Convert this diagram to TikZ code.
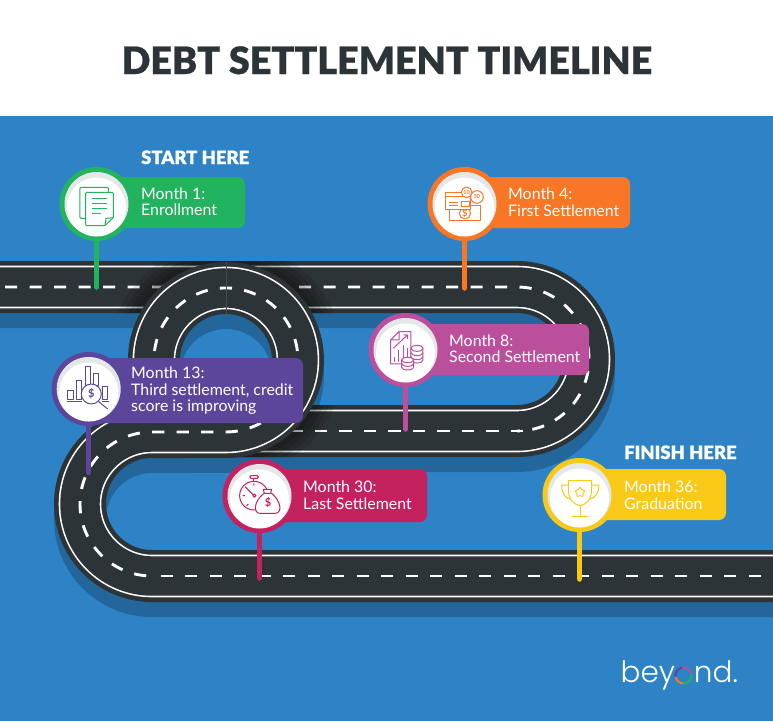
\documentclass[tikz,border=0pt]{standalone}
\usepackage{fontspec}
\setmainfont{Lato}
\newfontfamily\blackfont[FakeBold=0.6]{Lato Black}
\newfontfamily\lightfont{Poppins Light}
\usetikzlibrary{shapes.geometric}
\definecolor{cblue}{HTML}{2E83C7}
\definecolor{cshadow}{HTML}{23669C}
\definecolor{croad}{HTML}{2D3437}
\definecolor{cgreen}{HTML}{22B35F}
\definecolor{corange}{HTML}{F97724}
\definecolor{cmag}{HTML}{BB4F9C}
\definecolor{cpurple}{HTML}{5C469C}
\definecolor{ccrim}{HTML}{C4215F}
\definecolor{cyellow}{HTML}{F8C916}
\definecolor{cgray}{HTML}{E3E7E7}
\tikzset{
  lab/.style={text=white,inner sep=0pt,anchor=base west,font=\fontsize{15.9}{16.6}\selectfont},
  head/.style={text=white,inner sep=0pt,anchor=base west,font=\blackfont\fontsize{18.4}{20}\selectfont},
  stem/.style={line width=5.5pt,line cap=round},
  icon/.style={line width=1pt,line join=round},
  glyph/.style={inner sep=0pt,font=\bfseries\fontsize{9}{9}\selectfont},
  dashline/.style={white,line width=2.9pt,dash pattern=on 12.2pt off 12.3pt}
}
\newcommand{\roadApath}{(0,287) -- (517,287) arc[start angle=-90,end angle=90,radius=72] -- (226,431)}
\newcommand{\roadBpath}{(158.3,384.6) arc[start angle=160,end angle=450,radius=72] -- (152,432) arc[start angle=-90,end angle=-270,radius=72] -- (773,576)}
\newcommand{\vlines}[1]{\vtop{\baselineskip=16.6pt \lineskiplimit=-10pt #1}}
% name, colour, cx, cy, end y, label right, label top, label bottom
\newcommand{\pin}[8]{%
  \fill[#2,rounded corners=7pt] (#3,#7) rectangle (#6,#8);
  \node[circle,fill=#2,minimum size=74pt,inner sep=0pt] (#1) at (#3,#4) {};
  \fill[cgray] (#3,#4) circle[radius=32];
  \fill[white] (#3,#4+3) circle[radius=29.5];
  \coordinate (#1end) at (#3,#5);
  \draw[#2,stem] (#1.south) -- (#1end);
}
\begin{document}
\begin{tikzpicture}[x=1pt,y=-1pt]
\useasboundingbox (0,0) rectangle (773,721);
\clip (0,0) rectangle (773,721);
\fill[white] (0,0) rectangle (773,116);
\fill[cblue] (0,116) rectangle (773,721);
\node[inner sep=0pt,text=croad,anchor=base west,font=\blackfont\fontsize{37.7}{38}\selectfont] (title) at (121.5,74) {DEBT SETTLEMENT TIMELINE};
% shadows
\begin{scope}[yshift=-15pt]
\draw[cshadow,line width=52pt] \roadApath;
\draw[cshadow,line width=52pt] \roadBpath;
\end{scope}
% road A
\draw[croad,line width=52pt] \roadApath;
\draw[white,line width=42.6pt] \roadApath;
\draw[croad,line width=39.4pt] \roadApath;
\draw[dashline,dash phase=19.5pt] (0,287) -- (517,287) arc[start angle=-90,end angle=90,radius=72];
\draw[dashline] (523,431) -- (226,431);
% soft shadow of the loop on road A
\begin{scope}
\clip (0,261) rectangle (517,313) (226,405) rectangle (517,457);
\foreach \w in {92,82,72,62}{
  \draw[black,opacity=.11,line width=\w pt] (226,360) circle[radius=72];
}
\end{scope}
% road B
\draw[croad,line width=52pt] \roadBpath;
\draw[white,line width=42.6pt] \roadBpath;
\draw[croad,line width=39.4pt] \roadBpath;
\draw[dashline,dash phase=14.9pt] (158.3,384.6) arc[start angle=160,end angle=450,radius=72] -- (152,432) arc[start angle=-90,end angle=-270,radius=72];
\draw[dashline] (160.5,576) -- (773,576);
\draw[black!70,line width=.5pt] (226.5,262) -- (226.5,314);
% pins
\pin{pa}{cgreen}{96.5}{204}{287}{245}{177}{228}
\pin{pb}{corange}{464.5}{204}{288}{630}{177}{228}
\pin{pc}{cmag}{405.5}{350}{429}{589}{324}{375}
\pin{pd}{cpurple}{88.7}{389}{472.5}{303}{358}{423}
\pin{pe}{ccrim}{259.5}{496}{578}{427}{469}{522}
\pin{pf}{cyellow}{579.5}{495}{579}{726}{469}{520}
% labels
\node[lab] (ta) at (141,199) {\vlines{\hbox{Month 1:}\hbox{Enrollment}}};
\node[lab] (tb) at (508,199.7) {\vlines{\hbox{Month 4:}\hbox{First Settlement}}};
\node[lab] (tc) at (449,346.2) {\vlines{\hbox{Month 8:}\hbox{Second Settlement}}};
\node[lab] (td) at (131,378.7) {\vlines{\hbox{Month 13:}\hbox{Third settlement, credit}\hbox{score is improving}}};
\node[lab] (te) at (303,492.4) {\vlines{\hbox{Month 30:}\hbox{Last Settlement}}};
\node[lab] (tf) at (624,492.4) {\vlines{\hbox{Month 36:}\hbox{Graduation}}};
\node[head] (start) at (141,164) {START HERE};
\node[head] (finish) at (624,459) {FINISH HERE};
% icon: documents
\begin{scope}[shift={(0,130)},scale=.3333,cgreen,icon]
\draw[rounded corners=1pt] (240,172) rectangle (325,265);
\draw[fill=white,rounded corners=1pt] (257,187) -- (340,187) -- (340,263) -- (315,287) -- (257,287) -- cycle;
\draw (340,263) -- (318,265) -- (315,287);
\draw (275,205) -- (322,205) (275,220) -- (322,220) (275,235) -- (322,235) (275,250) -- (302,250);
\end{scope}
% icon: card, bill, coins
\begin{scope}[shift={(350,160)},scale=.3333,corange,icon]
\draw (298,137) rectangle (392,182);
\draw (345,160) circle[radius=17];
\node[glyph,text=corange] (ib) at (345,160) {\$};
\draw[fill=white] (287,97) rectangle (363,147);
\draw (287,110) -- (363,110) (297,127) -- (325,127) (297,137) -- (325,137);
\draw (335,125) rectangle (358,138);
\draw[fill=white] (350,97) circle[radius=16];
\node[glyph,text=corange,font=\bfseries\fontsize{5.5}{5.5}\selectfont] (ib1) at (350,97) {10};
\draw[fill=white] (381,111) circle[radius=19];
\node[glyph,text=corange,font=\bfseries\fontsize{5.5}{5.5}\selectfont] (ib2) at (381,111) {50};
\end{scope}
% icon: report and coin stacks
\begin{scope}[shift={(350,160)},scale=.3333,cmag,icon]
\draw (147,515) -- (183,515) -- (183,612) -- (122,612) -- (122,540) -- cycle (147,515) -- (147,540) -- (122,540);
\draw (133,590) -- (133,605) (146,570) -- (146,605) (159,555) -- (159,605) (172,565) -- (172,605);
\draw (130,565) -- (172,525) (160,525) -- (172,525) -- (172,537);
\draw[fill=white] (183,565) -- (183,600) arc[start angle=180,end angle=0,x radius=18,y radius=9] -- (219,565);
\draw[fill=white] (201,565) ellipse[x radius=18,y radius=9];
\draw (183,578) arc[start angle=180,end angle=0,x radius=18,y radius=9] (183,590) arc[start angle=180,end angle=0,x radius=18,y radius=9];
\draw[fill=white] (155,600) -- (155,622) arc[start angle=180,end angle=0,x radius=18,y radius=8] -- (191,600);
\draw[fill=white] (173,600) ellipse[x radius=18,y radius=8];
\draw (155,611) arc[start angle=180,end angle=0,x radius=18,y radius=8];
\end{scope}
% icon: bars and magnifier
\begin{scope}[shift={(30,330)},scale=.3333,cpurple,icon]
\draw (112,180) rectangle (130,207);
\draw (140,150) rectangle (155,207);
\draw (167,110) rectangle (182,165);
\draw (192,130) rectangle (206,165);
\draw (218,170) rectangle (232,207);
\draw (110,215) -- (155,215) (215,215) -- (238,215);
\draw[fill=white] (184,192) circle[radius=30];
\draw (205,214) -- (233,237);
\node[glyph,text=cpurple,font=\bfseries\fontsize{11}{11}\selectfont] (id) at (184,192) {\$};
\end{scope}
% icon: stopwatch and money bag
\begin{scope}[shift={(30,330)},scale=.3333,ccrim,icon]
\draw (672,497) circle[radius=43];
\draw[fill=white,rounded corners=1pt] (660,437) rectangle (685,445);
\draw (672,445) -- (672,454);
\draw (672,497) -- (645,470);
\draw[fill=white] (673,497) circle[radius=5];
\draw (672,460) -- (672,467) (638,497) -- (645,497) (650,527) -- (655,522);
\draw[fill=white] (702,490) .. controls (670,515) and (670,550) .. (690,550) -- (735,550) .. controls (757,550) and (755,515) .. (725,490) -- cycle;
\draw[fill=white] (700,478) -- (725,478) -- (722,490) -- (703,490) -- cycle;
\node[glyph,text=ccrim,font=\bfseries\fontsize{11}{11}\selectfont] (ie) at (714,519) {\$};
\end{scope}
% icon: trophy
\begin{scope}[shift={(520,430)},scale=.3333,cyellow,icon]
\draw (145,152) -- (215,152) -- (215,180) .. controls (215,210) and (195,225) .. (180,227) .. controls (165,225) and (145,210) .. (145,180) -- cycle;
\draw (145,165) -- (125,165) .. controls (125,190) and (135,205) .. (152,208);
\draw (215,165) -- (237,165) .. controls (237,190) and (225,205) .. (208,208);
\draw (180,227) -- (180,257) (155,258) -- (205,258);
\node[star,star points=5,draw=cyellow,line width=1pt,minimum size=10pt,inner sep=0pt] (if) at (180,187) {};
\end{scope}
% logo
\node[inner sep=0pt,anchor=base west,text=white,font=\lightfont\fontsize{29.5}{30}\selectfont] (logo) at (620.5,682) {bey{\color{cblue}o}nd.};
\begin{scope}[line width=2pt]
\draw[cmag] (683.5,675.5) +(-100:8) arc[start angle=-100,end angle=-10,radius=8];
\draw[cpurple] (683.5,675.5) +(-190:8) arc[start angle=-190,end angle=-100,radius=8];
\draw[corange] (683.5,675.5) +(90:8) arc[start angle=90,end angle=170,radius=8];
\draw[cgreen] (683.5,675.5) +(-10:8) arc[start angle=-10,end angle=90,radius=8];
\end{scope}
\end{tikzpicture}
\end{document}
